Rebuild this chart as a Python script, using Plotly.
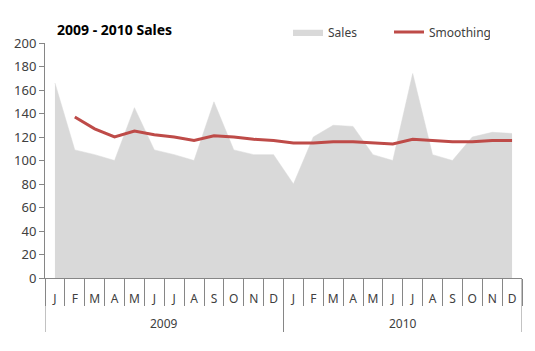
import plotly.graph_objects as go

years = ["2009", "2010"]
months = ["J", "F", "M", "A", "M", "J", "J", "A", "S", "O", "N", "D"] * 2
sales = [166, 109, 105, 100, 145, 109, 105, 100, 150, 109, 105, 105,
         80, 120, 130, 129, 105, 100, 174, 105, 100, 120, 124, 123]
smoothing = [None, 137, 127, 120, 125, 122, 120, 117, 121, 120, 118, 117,
             115, 115, 116, 116, 115, 114, 118, 117, 116, 116, 117, 117]
y_ticks = list(range(0, 201, 20))

FONT = "Noto Sans"
GRAY = "#868686"
PLOT_H = 235.0
x = list(range(len(months)))

fig = go.Figure()
fig.add_trace(go.Scatter(
    x=x, y=sales, name="Sales", mode="lines",
    fill="tozeroy", fillcolor="#d9d9d9", line=dict(color="#d9d9d9", width=0.5),
))
fig.add_trace(go.Scatter(
    x=x, y=smoothing, name="Smoothing", mode="lines",
    line=dict(color="#be4b48", width=3),
))

# year group dividers and labels
for gi, yr in enumerate(years):
    start = gi * 12 - 0.5
    fig.add_annotation(x=start + 6, xref="x", y=-45 / PLOT_H, yref="paper",
                       yanchor="middle", xanchor="center",
                       text=yr, showarrow=False,
                       font=dict(family=FONT, size=12, color="#404040"))
for b in [-0.5, 11.5, 23.5]:
    fig.add_shape(type="line", xref="x", yref="paper", x0=b, x1=b,
                  y0=0, y1=-54 / PLOT_H, line=dict(color=GRAY, width=1))

fig.update_layout(
    width=535, height=351,
    margin=dict(l=45, r=13, t=43, b=73),
    paper_bgcolor="white", plot_bgcolor="white",
    font=dict(family=FONT, size=12, color="#404040"),
    title=dict(text="<b>2009 - 2010 Sales</b>", x=57 / 535, xanchor="left",
               y=1 - 30 / 351, yanchor="middle",
               font=dict(family=FONT, size=14, color="black")),
    legend=dict(orientation="h", x=(288 - 45) / 477, xanchor="left",
                y=1 + (43 - 32) / PLOT_H, yanchor="middle",
                font=dict(family=FONT, size=12, color="#404040"),
                bgcolor="rgba(0,0,0,0)", itemwidth=30,
                entrywidth=56, entrywidthmode="pixels"),
    showlegend=True,
)
fig.update_yaxes(
    range=[0, 200], tickvals=y_ticks, showgrid=False, zeroline=False,
    showline=True, linecolor=GRAY, linewidth=1,
    ticks="outside", ticklen=5, tickcolor=GRAY,
    tickfont=dict(size=13, color="#404040"),
)
fig.update_xaxes(
    range=[-0.5, 23.5], tickvals=x, ticktext=months,
    showgrid=False, zeroline=False, showline=True,
    linecolor=GRAY, linewidth=1, ticks="", ticklabelstandoff=10,
    minor=dict(tickvals=[i - 0.5 for i in range(25)], ticks="outside",
               ticklen=27, tickcolor=GRAY, showgrid=False),
    tickfont=dict(size=12, color="#404040"),
)
fig.write_html("out.html")
